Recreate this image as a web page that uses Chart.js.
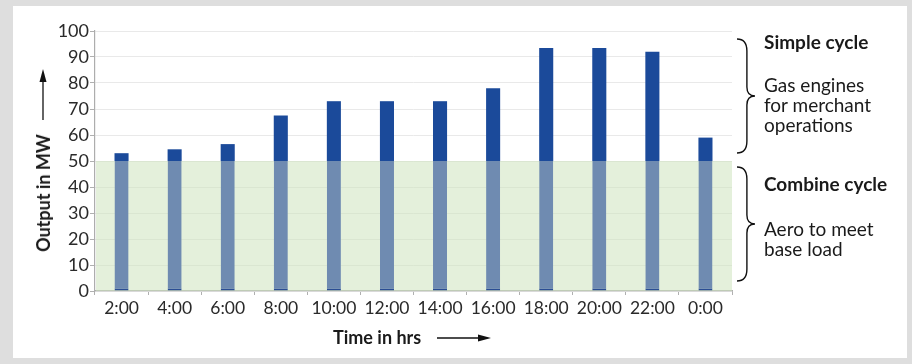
<!DOCTYPE html>
<html>
<head>
<meta charset="utf-8">
<script src="https://cdn.jsdelivr.net/npm/chart.js@4"></script>
<style>
  html, body { margin: 0; padding: 0; }
  body { width: 912px; height: 364px; background: #dedede; position: relative; overflow: hidden; font-family: Lato, "Noto Sans", sans-serif; }
  #panel { position: absolute; left: 13px; top: 6px; width: 894px; height: 352px; background: #ffffff; }
  #wrap { position: absolute; left: 0; top: 0; width: 912px; height: 364px; }
  .t { position: absolute; color: #1a1a1a; font-size: 19px; line-height: 20px; white-space: nowrap; }
  .b { font-weight: bold; }
  #ytitle { position: absolute; left: 43px; top: 193px; transform: translate(-50%, -50%) rotate(-90deg); font-weight: bold; font-size: 18px; color: #1a1a1a; white-space: nowrap; }
  #xtitle { position: absolute; left: 333px; top: 327px; font-weight: bold; font-size: 18px; color: #1a1a1a; white-space: nowrap; line-height: 20px; }
</style>
</head>
<body>
<div id="panel"></div>
<div id="wrap"><canvas id="c" width="912" height="364"></canvas></div>
<div id="ytitle">Output in MW</div>
<div id="xtitle">Time in hrs</div>
<div class="t b" style="left:764px; top:32px;">Simple cycle</div>
<div class="t" style="left:764px; top:75px;">Gas engines<br>for merchant<br>operations</div>
<div class="t b" style="left:764px; top:174px;">Combine cycle</div>
<div class="t" style="left:764px; top:219px;">Aero to meet<br>base load</div>
<script>
// ---- data ----
const timeLabels = ["2:00","4:00","6:00","8:00","10:00","12:00","14:00","16:00","18:00","20:00","22:00","0:00"];
const combinedCycle = [50,50,50,50,50,50,50,50,50,50,50,50];          // base load (MW)
const simpleCycle   = [3,4.5,6.5,17.5,23,23,23,28,43.5,43.5,42,9];     // merchant output above base (MW)
const yTicks = [0,10,20,30,40,50,60,70,80,90,100];
const baseBand = [0, 50];       // shaded combined-cycle region

const decor = {
  id: 'decor',
  beforeDatasetsDraw(chart) {
    const {ctx, chartArea, scales: {y}} = chart;
    ctx.save();
    ctx.fillStyle = 'rgba(205,228,190,0.55)';
    const yt = y.getPixelForValue(baseBand[1]), yb = y.getPixelForValue(baseBand[0]);
    ctx.fillRect(chartArea.left + 1, yt, chartArea.right - chartArea.left - 1, yb - yt);
    ctx.restore();
  },
  afterDraw(chart) {
    const {ctx} = chart;
    ctx.save();
    ctx.strokeStyle = '#111';
    ctx.fillStyle = '#111';
    ctx.lineWidth = 1.3;
    // y-axis arrow
    ctx.beginPath(); ctx.moveTo(43, 120); ctx.lineTo(43, 80); ctx.stroke();
    ctx.beginPath(); ctx.moveTo(43, 69); ctx.lineTo(39.5, 82); ctx.lineTo(46.5, 82); ctx.closePath(); ctx.fill();
    // x-axis arrow
    ctx.beginPath(); ctx.moveTo(437, 338); ctx.lineTo(480, 338); ctx.stroke();
    ctx.beginPath(); ctx.moveTo(491, 338); ctx.lineTo(478, 334.5); ctx.lineTo(478, 341.5); ctx.closePath(); ctx.fill();
    // braces
    function brace(y1, y2, x0, w) {
      const ym = (y1 + y2) / 2;
      const r = 6;
      ctx.beginPath();
      ctx.moveTo(x0, y1);
      ctx.quadraticCurveTo(x0 + w * 0.55, y1, x0 + w * 0.55, y1 + r * 2);
      ctx.lineTo(x0 + w * 0.55, ym - r * 1.5);
      ctx.quadraticCurveTo(x0 + w * 0.55, ym, x0 + w, ym);
      ctx.quadraticCurveTo(x0 + w * 0.55, ym, x0 + w * 0.55, ym + r * 1.5);
      ctx.lineTo(x0 + w * 0.55, y2 - r * 2);
      ctx.quadraticCurveTo(x0 + w * 0.55, y2, x0, y2);
      ctx.stroke();
    }
    ctx.lineWidth = 1.4;
    brace(39, 153, 737, 18);
    brace(167, 281, 737, 18);
    ctx.restore();
  }
};

new Chart(document.getElementById('c'), {
  type: 'bar',
  data: {
    labels: timeLabels,
    datasets: [
      {
        label: 'Combine cycle',
        data: combinedCycle,
        backgroundColor: '#6f8bb1',
        borderColor: '#2a4d93',
        borderWidth: {top: 0, left: 0, right: 0, bottom: 2},
        borderSkipped: false,
        barPercentage: 0.265,
        categoryPercentage: 1
      },
      {
        label: 'Simple cycle',
        data: simpleCycle,
        backgroundColor: '#1b4a9a',
        borderWidth: 0,
        barPercentage: 0.265,
        categoryPercentage: 1
      }
    ]
  },
  options: {
    responsive: false,
    animation: false,
    devicePixelRatio: 1,
    layout: { padding: { top: 31, right: 180, bottom: 0, left: 0 } },
    plugins: { legend: { display: false }, tooltip: { enabled: false } },
    scales: {
      x: {
        stacked: true,
        offset: true,
        grid: { display: true, drawOnChartArea: false, offset: true, tickLength: 4, color: '#b0b0b0' },
        border: { display: true, color: '#adadad', width: 1.2 },
        ticks: { color: '#2a2a2a', font: { family: 'Lato', size: 17.5 }, padding: 3, maxRotation: 0, autoSkip: false },
        afterFit(scale) { scale.height = 73; }
      },
      y: {
        stacked: true,
        min: 0, max: 100,
        afterBuildTicks(scale) { scale.ticks = yTicks.map(v => ({value: v})); },
        grid: { color: '#e9e9e9', tickLength: 5, tickColor: '#b0b0b0' },
        border: { display: true, color: '#adadad', width: 1.2 },
        ticks: { color: '#2a2a2a', font: { family: 'Lato', size: 18 }, padding: 1 },
        afterFit(scale) { scale.width = 95; }
      }
    }
  },
  plugins: [decor]
});
</script>
</body>
</html>
